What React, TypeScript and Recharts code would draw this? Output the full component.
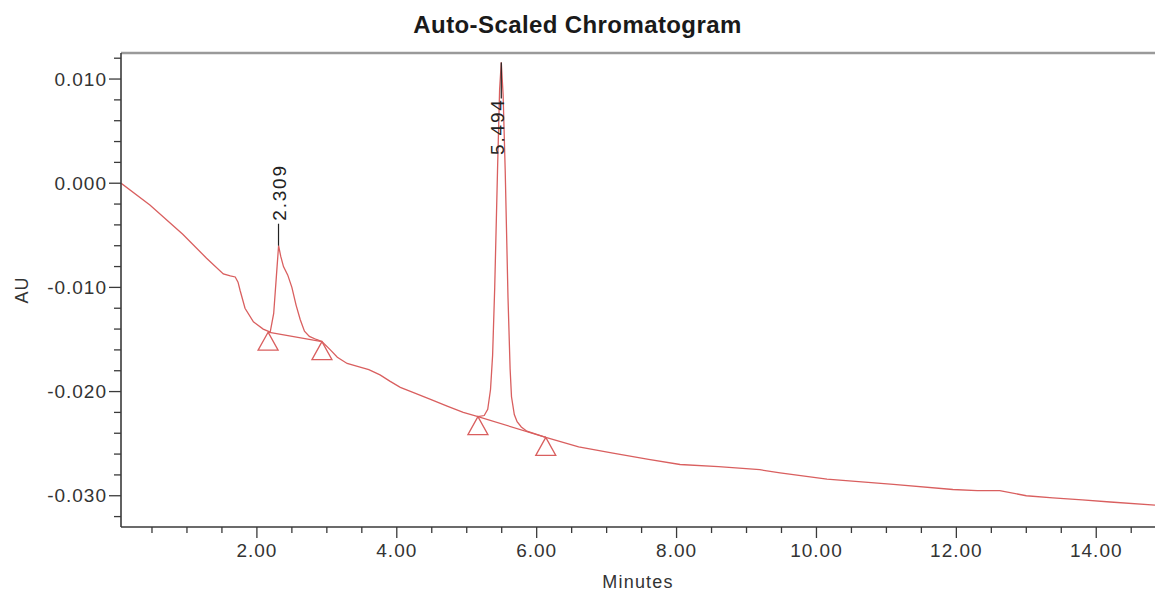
import React from "react";
import {
  ComposedChart,
  Line,
  Scatter,
  XAxis,
  YAxis,
  ReferenceLine,
} from "recharts";

// retention time (min) / absorbance (AU)
const signalTimes = [
  0.06, 0.47, 0.94, 1.28, 1.52, 1.62, 1.69, 1.73, 1.76, 1.83, 1.95, 2.09, 2.19,
  2.24, 2.28, 2.31, 2.34, 2.38, 2.44, 2.5, 2.56, 2.62, 2.68, 2.75, 2.85, 2.93,
  3.05, 3.15, 3.29, 3.45, 3.6, 3.76, 3.9, 4.05, 4.24, 4.5, 4.72, 4.95, 5.16,
  5.25, 5.3, 5.34, 5.37, 5.4, 5.44, 5.47, 5.494, 5.52, 5.55, 5.59, 5.62, 5.64,
  5.68, 5.72, 5.78, 5.86, 6.0, 6.13, 6.6, 7.09, 7.6, 8.05, 8.6, 9.19, 9.48,
  10.15, 11.1, 11.95, 12.3, 12.62, 13.0, 13.38, 13.8, 14.2, 14.84,
];
const signalValues = [
  0.0, -0.0021, -0.0049, -0.0072, -0.0087, -0.0089, -0.009, -0.0095, -0.0103,
  -0.012, -0.0133, -0.014, -0.0143, -0.0125, -0.0088, -0.006, -0.007, -0.008,
  -0.0088, -0.01, -0.0117, -0.0131, -0.0142, -0.0147, -0.015, -0.0152, -0.016,
  -0.0167, -0.0173, -0.0176, -0.0179, -0.0184, -0.019, -0.0196, -0.0201,
  -0.0208, -0.0214, -0.022, -0.0224, -0.0223, -0.0217, -0.0198, -0.0165, -0.01,
  0.0012, 0.009, 0.0116, 0.0085, 0.0012, -0.011, -0.0178, -0.0205, -0.0222,
  -0.0229, -0.0234, -0.0238, -0.0241, -0.0244, -0.0253, -0.0259, -0.0265,
  -0.027, -0.0272, -0.0275, -0.0278, -0.0284, -0.0289, -0.0294, -0.0295,
  -0.0295, -0.03, -0.0302, -0.0304, -0.0306, -0.0309,
];

// integration baselines (start/end of each peak)
const base1Times = [2.16, 2.93];
const base1Values = [-0.0143, -0.0152];
const base2Times = [5.16, 6.13];
const base2Values = [-0.0224, -0.0244];

const markerTimes = [2.16, 2.93, 5.16, 6.13];
const markerValues = [-0.0143, -0.0152, -0.0224, -0.0244];

const peakTimes = [2.309, 5.494];
const peakValues = [-0.006, 0.0116];
const peakLabels = ["2.309", "5.494"];

const xTicks = [
  0.5, 1, 1.5, 2, 2.5, 3, 3.5, 4, 4.5, 5, 5.5, 6, 6.5, 7, 7.5, 8, 8.5, 9, 9.5,
  10, 10.5, 11, 11.5, 12, 12.5, 13, 13.5, 14, 14.5,
];
const yTicks = [
  -0.032, -0.03, -0.028, -0.026, -0.024, -0.022, -0.02, -0.018, -0.016, -0.014,
  -0.012, -0.01, -0.008, -0.006, -0.004, -0.002, 0, 0.002, 0.004, 0.006, 0.008,
  0.01, 0.012,
];

const zip = (ts: number[], vs: number[]) => ts.map((t, i) => ({ t, v: vs[i] }));

const signal = zip(signalTimes, signalValues);
const base1 = zip(base1Times, base1Values);
const base2 = zip(base2Times, base2Values);
const markers = zip(markerTimes, markerValues);
const peaks = peakTimes.map((t, i) => ({ t, v: peakValues[i], label: peakLabels[i] }));

const FONT = "'Liberation Sans', Arial, sans-serif";
const TRACE = "#d95f5f";
const AXIS = "#3a3a3a";

const XTick = (props: any) => {
  const { x, y, payload } = props;
  const v = payload.value;
  const major = Math.abs(v % 2) < 1e-6;
  return (
    <g>
      <line x1={x} x2={x} y1={y} y2={y + (major ? 11 : 6)} stroke={AXIS} strokeWidth={1.3} />
      {major && (
        <text x={x} y={y + 30} textAnchor="middle" fontSize={19} fill="#333" letterSpacing={1} fontFamily={FONT}>
          {v.toFixed(2)}
        </text>
      )}
    </g>
  );
};

const YTick = (props: any) => {
  const { x, y, payload } = props;
  const v = payload.value;
  const major = Math.abs(Math.round(v * 1000)) % 10 === 0;
  return (
    <g>
      <line x1={x} x2={x - (major ? 12 : 7)} y1={y} y2={y} stroke={AXIS} strokeWidth={1.3} />
      {major && (
        <text x={x - 14} y={y} dy="0.35em" textAnchor="end" fontSize={19} fill="#333" letterSpacing={1} fontFamily={FONT}>
          {v.toFixed(3)}
        </text>
      )}
    </g>
  );
};

const Triangle = (props: any) => {
  const { cx, cy } = props;
  return (
    <polygon
      points={`${cx},${cy} ${cx - 10},${cy + 18} ${cx + 10},${cy + 18}`}
      fill="none"
      stroke={TRACE}
      strokeWidth={1.3}
    />
  );
};

const PeakLabel = (props: any) => {
  const { cx, cy, payload } = props;
  // put the label above the apex if it fits, otherwise hang it below
  const above = cy - 85 > 53;
  if (above) {
    const end = cy - 22;
    return (
      <g>
        <line x1={cx} x2={cx} y1={cy} y2={end} stroke="#222" strokeWidth={1.2} />
        <text
          x={cx + 7}
          y={end - 3}
          transform={`rotate(-90 ${cx + 7} ${end - 3})`}
          fontSize={19}
          letterSpacing={1.8}
          fill="#222"
          fontFamily={FONT}
        >
          {payload.label}
        </text>
      </g>
    );
  }
  const end = cy + 36;
  return (
    <g>
      <line x1={cx} x2={cx} y1={cy} y2={end} stroke="#222" strokeWidth={1.2} />
      <text
        x={cx + 3}
        y={end}
        transform={`rotate(-90 ${cx + 3} ${end})`}
        textAnchor="end"
        fontSize={19}
        letterSpacing={1.8}
        fill="#222"
        fontFamily={FONT}
      >
        {payload.label}
      </text>
    </g>
  );
};

export default function App() {
  return (
    <div style={{ position: "absolute", left: 0, top: 0, width: 1155, height: 592, background: "#fff" }}>
      <div
        style={{
          position: "absolute",
          left: 0,
          top: 13,
          width: 1155,
          textAlign: "center",
          fontFamily: FONT,
          fontWeight: "bold",
          fontSize: 24,
          lineHeight: "24px",
          letterSpacing: 0.4,
          color: "#1a1a1a",
        }}
      >
        Auto-Scaled Chromatogram
      </div>
      <ComposedChart width={1155} height={592} margin={{ top: 53, right: 0, bottom: 0, left: 0 }}>
        <XAxis
          type="number"
          dataKey="t"
          domain={[0.057, 14.84]}
          allowDataOverflow
          ticks={xTicks}
          interval={0}
          tick={<XTick />}
          tickLine={false}
          tickSize={0}
          tickMargin={0}
          height={65}
          axisLine={{ stroke: AXIS, strokeWidth: 1.6 }}
          label={{
            content: (p: any) => {
              const vb = p.viewBox;
              return (
                <text x={vb.x + vb.width / 2} y={vb.y + 61} textAnchor="middle" fontSize={18} letterSpacing={1.2} fill="#333" fontFamily={FONT}>
                  Minutes
                </text>
              );
            },
          }}
        />
        <YAxis
          type="number"
          dataKey="v"
          domain={[-0.033, 0.0125]}
          allowDataOverflow
          ticks={yTicks}
          interval={0}
          tick={<YTick />}
          tickLine={false}
          tickSize={0}
          tickMargin={0}
          width={121}
          axisLine={{ stroke: AXIS, strokeWidth: 1.6 }}
          label={{
            content: (p: any) => {
              const vb = p.viewBox;
              const cy = vb.y + vb.height / 2;
              return (
                <text x={28} y={cy} transform={`rotate(-90 28 ${cy})`} textAnchor="middle" fontSize={18} letterSpacing={1} fill="#333" fontFamily={FONT}>
                  AU
                </text>
              );
            },
          }}
        />
        <ReferenceLine y={0.0125} stroke="#9a9a9a" strokeWidth={2.5} ifOverflow="extendDomain" />
        <Line data={base1} dataKey="v" stroke={TRACE} strokeWidth={1.2} dot={false} activeDot={false} isAnimationActive={false} />
        <Line data={base2} dataKey="v" stroke={TRACE} strokeWidth={1.2} dot={false} activeDot={false} isAnimationActive={false} />
        <Line data={signal} dataKey="v" stroke={TRACE} strokeWidth={1.3} dot={false} activeDot={false} isAnimationActive={false} />
        <Scatter data={markers} dataKey="v" shape={<Triangle />} isAnimationActive={false} />
        <Scatter data={peaks} dataKey="v" shape={<PeakLabel />} isAnimationActive={false} />
      </ComposedChart>
    </div>
  );
}
